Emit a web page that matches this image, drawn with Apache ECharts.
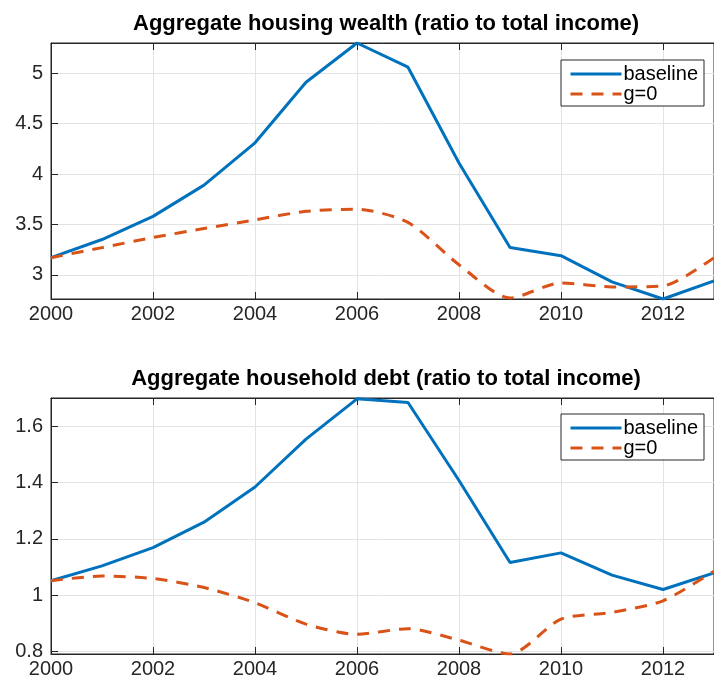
<!DOCTYPE html>
<html>
<head>
<meta charset="utf-8">
<script src="https://cdn.jsdelivr.net/npm/echarts@6/dist/echarts.min.js"></script>
<style>
  html, body { margin: 0; padding: 0; background: #fff; }
  #chart { width: 714px; height: 682px; }
</style>
</head>
<body>
<div id="chart"></div>
<script>
const years = [2000, 2001, 2002, 2003, 2004, 2005, 2006, 2007, 2008, 2009, 2010, 2011, 2012, 2013];

// housing wealth, ratio to total income
const wealthBaseline = [3.17, 3.35, 3.58, 3.89, 4.31, 4.91, 5.30, 5.06, 4.11, 3.27, 3.19, 2.93, 2.76, 2.94];
const wealthG0 = [3.17, 3.27, 3.37, 3.46, 3.545, 3.63, 3.65, 3.52, 3.10, 2.77, 2.92, 2.88, 2.89, 3.17];

// household debt, ratio to total income
const debtBaseline = [1.051, 1.104, 1.169, 1.259, 1.384, 1.554, 1.697, 1.684, 1.407, 1.116, 1.15, 1.071, 1.02, 1.079];
const debtG0 = [1.051, 1.068, 1.059, 1.027, 0.973, 0.897, 0.861, 0.881, 0.84, 0.791, 0.915, 0.939, 0.98, 1.085];

const wealthTicks = [3, 3.5, 4, 4.5, 5];
const debtTicks = [0.8, 1, 1.2, 1.4, 1.6];

const titles = [
  'Aggregate housing wealth (ratio to total income)',
  'Aggregate household debt (ratio to total income)'
];

const BLUE = '#0072BD';
const ORANGE = '#D95319';
const AXIS = '#262626';
const FONT = '"Liberation Sans", Arial, Helvetica, sans-serif';

const pairs = (vals) => years.map((y, i) => [y, vals[i]]);

const chart = echarts.init(document.getElementById('chart'));

const grids = [
  { left: 51, right: -6.5, top: 43, height: 256 },
  { left: 51, right: -6.5, top: 398, height: 256 }
];

const xBottom = (gi) => ({
  type: 'value', gridIndex: gi, position: 'bottom',
  min: 2000, max: 2013, interval: 2,
  axisLine: { show: true, onZero: false, lineStyle: { color: AXIS, width: 1 } },
  axisTick: { show: true, inside: true, length: 7, lineStyle: { color: AXIS } },
  axisLabel: { color: AXIS, fontSize: 20, fontFamily: FONT, margin: 5, showMaxLabel: false,
    formatter: (v) => String(v) },
  splitLine: { show: true, lineStyle: { color: '#e3e3e3', width: 1 } }
});

const xTop = (gi) => ({
  type: 'value', gridIndex: gi, position: 'top',
  min: 2000, max: 2013, interval: 2,
  axisLine: { show: true, onZero: false, lineStyle: { color: AXIS, width: 1 } },
  axisTick: { show: true, inside: true, length: 7, lineStyle: { color: AXIS } },
  axisLabel: { show: false },
  splitLine: { show: false }
});

const yLeft = (gi, min, max, ticks) => ({
  type: 'value', gridIndex: gi, min: min, max: max,
  axisLine: { show: true, onZero: false, lineStyle: { color: AXIS, width: 1 } },
  axisTick: { show: true, inside: true, length: 7, customValues: ticks, lineStyle: { color: AXIS } },
  axisLabel: { color: AXIS, fontSize: 20, fontFamily: FONT, margin: 8, customValues: ticks,
    formatter: (v) => String(v) },
  splitLine: { show: true, lineStyle: { color: '#e3e3e3', width: 1 } }
});

const lineSeries = (name, gi, vals, dashed) => ({
  name: name, type: 'line',
  xAxisIndex: gi * 2, yAxisIndex: gi,
  data: pairs(vals),
  symbol: 'none', smooth: dashed ? 0.25 : false,
  lineStyle: { color: dashed ? ORANGE : BLUE, width: 3, type: dashed ? [12, 9] : 'solid' },
  itemStyle: { color: dashed ? ORANGE : BLUE },
  z: dashed ? 3 : 2
});

const legendBox = (top) => ({
  orient: 'vertical', left: 561, top: top,
  data: ['baseline', 'g=0'],
  backgroundColor: '#fff', borderColor: AXIS, borderWidth: 1,
  padding: [4, 6, 2, 8], itemGap: 0,
  itemWidth: 51, itemHeight: 20,
  itemStyle: { opacity: 0 },
  lineStyle: { width: 3 },
  textStyle: { color: '#000', fontSize: 20, fontFamily: FONT, padding: [0, 0, 0, -3] },
  selectedMode: false
});

chart.setOption({
  backgroundColor: '#fff',
  animation: false,
  grid: grids.map((g) => Object.assign({ show: true, borderColor: AXIS, borderWidth: 1, containLabel: false }, g)),
  xAxis: [xBottom(0), xTop(0), xBottom(1), xTop(1)],
  yAxis: [yLeft(0, 2.76, 5.3, wealthTicks), yLeft(1, 0.791, 1.7, debtTicks)],
  legend: [legendBox(60), legendBox(414)],
  graphic: titles.map((t, i) => ({
    type: 'text', x: 386, y: i === 0 ? 13 : 368,
    style: { text: t, textAlign: 'center', fill: '#000',
      font: 'bold 22px ' + FONT }
  })),
  series: [
    lineSeries('baseline', 0, wealthBaseline, false),
    lineSeries('g=0', 0, wealthG0, true),
    lineSeries('baseline', 1, debtBaseline, false),
    lineSeries('g=0', 1, debtG0, true)
  ]
});
</script>
</body>
</html>
